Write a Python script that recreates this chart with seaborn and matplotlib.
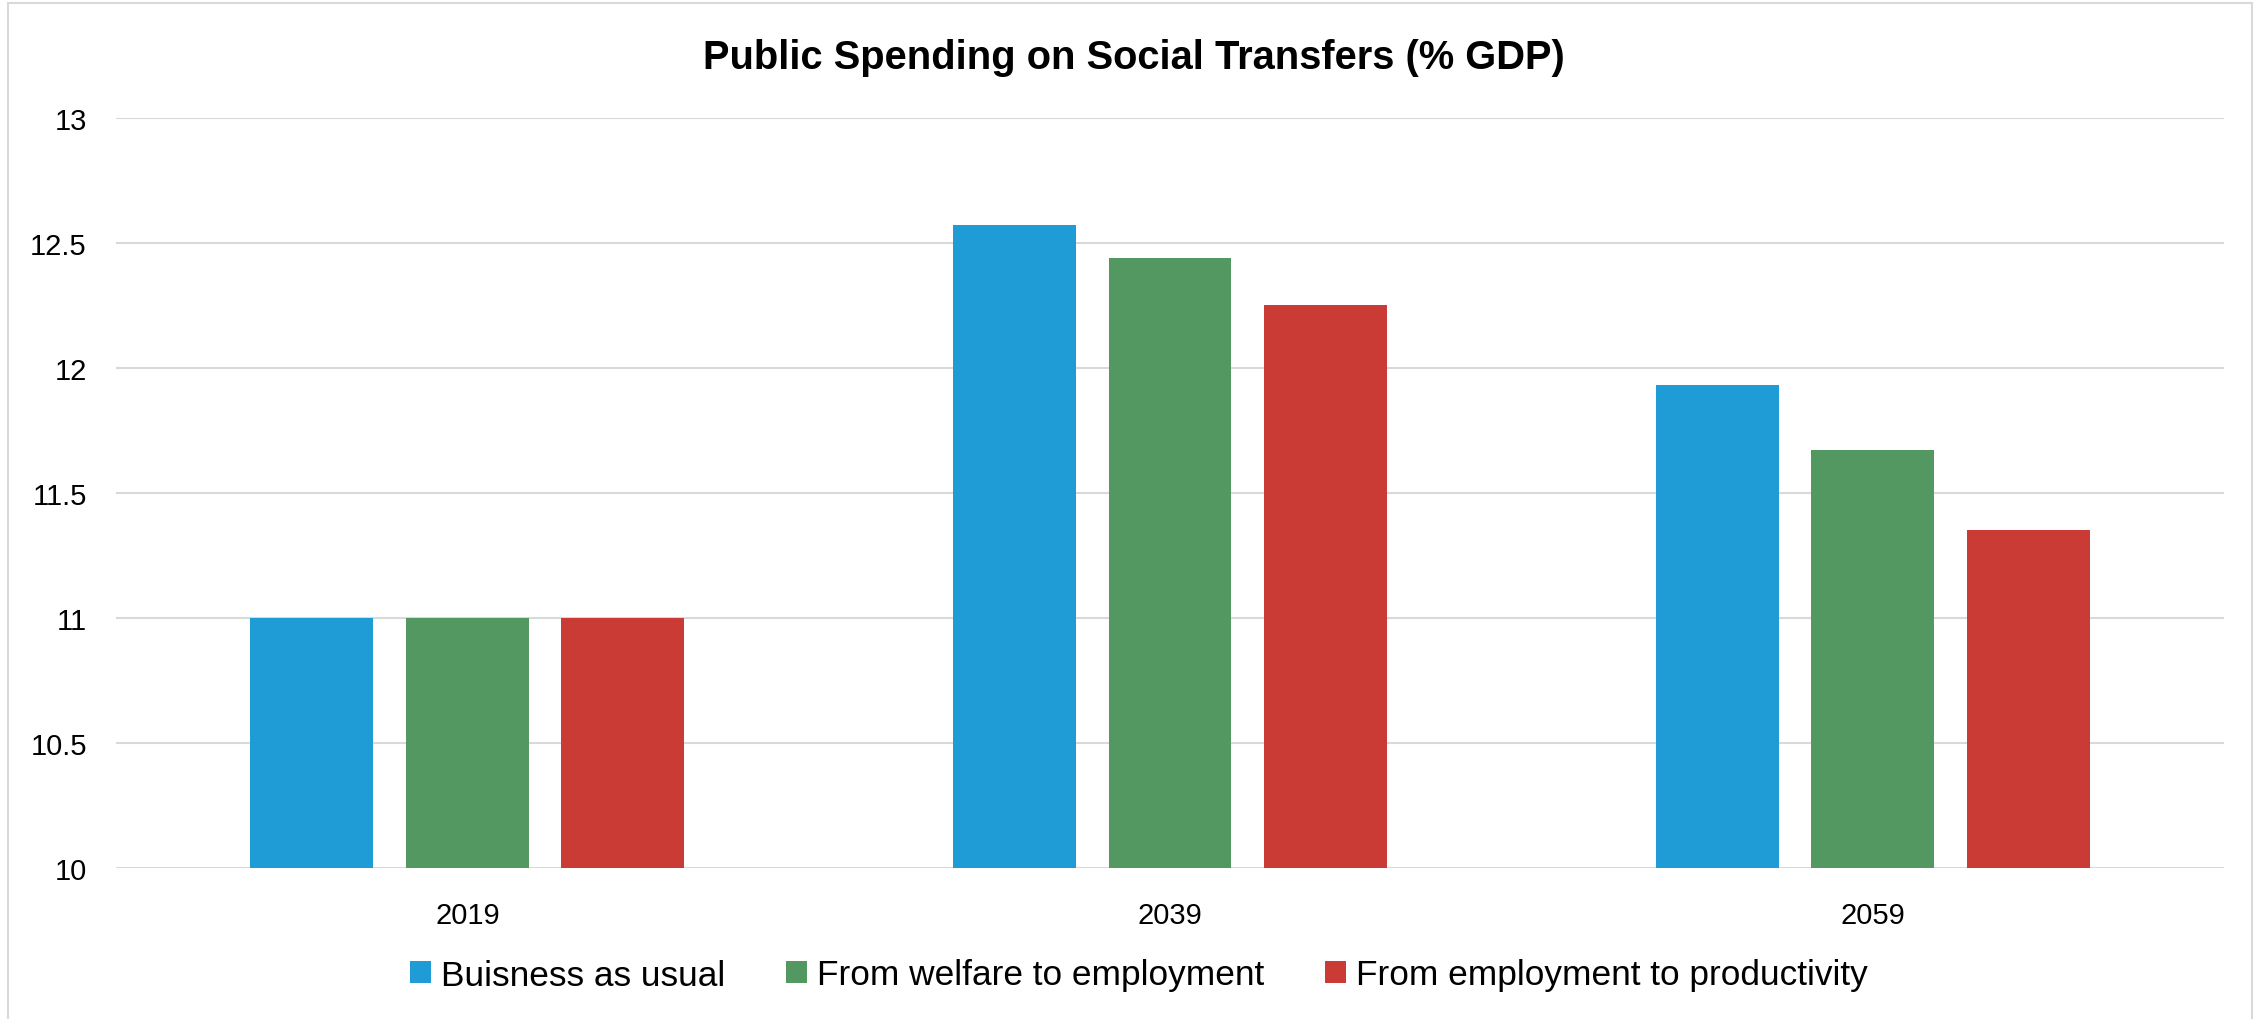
import matplotlib
matplotlib.use("Agg")
import matplotlib.pyplot as plt
import seaborn as sns
import pandas as pd
from matplotlib.patches import Rectangle

years = ["2019", "2039", "2059"]
scenarios = ["Buisness as usual", "From welfare to employment", "From employment to productivity"]
business_as_usual = [11.0, 12.57, 11.93]
welfare_to_employment = [11.0, 12.44, 11.67]
employment_to_productivity = [11.0, 12.25, 11.35]
colors = ["#1F9CD5", "#539861", "#CB3B36"]
y_ticks = [10, 10.5, 11, 11.5, 12, 12.5, 13]
y_tick_labels = ["10", "10.5", "11", "11.5", "12", "12.5", "13"]
title = "Public Spending on Social Transfers (% GDP)"

series = [business_as_usual, welfare_to_employment, employment_to_productivity]
rows = []
for name, vals in zip(scenarios, series):
    for yr, v in zip(years, vals):
        rows.append({"year": yr, "value": v, "scenario": name})
df = pd.DataFrame(rows)

sns.set_theme(style="white")
plt.rcParams["font.family"] = ["Liberation Sans", "DejaVu Sans"]

W, H, DPI = 2267, 1020, 100
fig = plt.figure(figsize=(W / DPI, H / DPI), dpi=DPI)
fig.patch.set_facecolor("white")
ax = fig.add_axes([116 / W, 1 - 869 / H, (2224 - 116) / W, (869 - 118.6) / H])

sns.barplot(data=df, x="year", y="value", hue="scenario", hue_order=scenarios,
            order=years, palette=colors, saturation=1, width=0.664, gap=0.21,
            linewidth=0, errorbar=None, ax=ax)

ax.set_ylim(10, 13)
ax.set_xlim(-0.5, 2.5)
ax.set_yticks(y_ticks)
ax.set_yticklabels(y_tick_labels)
ax.set_xlabel("")
ax.set_ylabel("")
ax.grid(axis="y", color="#D9D9D9", linewidth=1.5)
ax.grid(axis="x", visible=False)
ax.set_axisbelow(True)
for s in ax.spines.values():
    s.set_visible(False)
ax.tick_params(axis="y", length=0, pad=21, labelsize=21, labelcolor="#000000")
ax.tick_params(axis="x", length=0, pad=24, labelsize=21, labelcolor="#000000")

handles, labels = ax.get_legend_handles_labels()
if ax.get_legend() is not None:
    ax.get_legend().remove()
fig.legend(handles, labels, loc="center", bbox_to_anchor=(0.5025, 1 - 976 / H),
           ncol=3, frameon=False, fontsize=25.4, handlelength=0.6, handleheight=0.6,
           handletextpad=0.28, columnspacing=1.72, labelcolor="#000000")

fig.text(0.5, 1 - 58 / H, title, ha="center", va="center", fontsize=28.7,
         fontweight="bold", color="#000000")

fig.patches.append(Rectangle((8 / W, -0.01), (2252 - 8) / W, 1.01 - 4 / H,
                             transform=fig.transFigure, fill=False,
                             edgecolor="#D9D9D9", linewidth=1.5))

fig.savefig("out.png", dpi=DPI, facecolor="white")
